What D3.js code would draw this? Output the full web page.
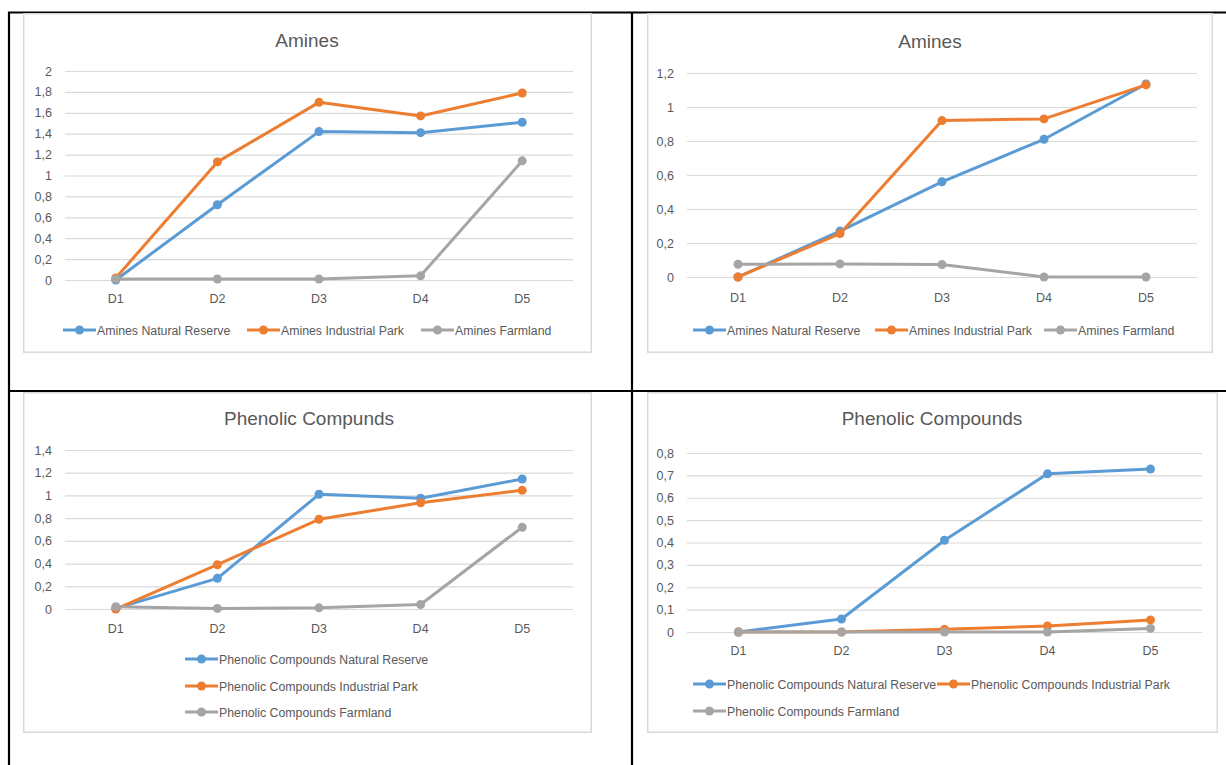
<!DOCTYPE html>
<html><head><meta charset="utf-8">
<script src="https://cdn.jsdelivr.net/npm/d3@7/dist/d3.min.js"></script>
<style>
html,body{margin:0;padding:0;background:#fff;}
svg{display:block;font-family:"Liberation Sans",Arial,sans-serif;}
</style></head>
<body><svg id="c" width="1226" height="765"></svg>
<script>
// ---------- DATA ----------
const categories = ["D1","D2","D3","D4","D5"];

// Panel 1 (top-left) Amines
const aminesA_natural    = [0.00, 0.72, 1.42, 1.41, 1.51];
const aminesA_industrial = [0.02, 1.13, 1.70, 1.57, 1.79];
const aminesA_farmland   = [0.01, 0.01, 0.01, 0.04, 1.14];
const aminesA_ticks = [0,0.2,0.4,0.6,0.8,1,1.2,1.4,1.6,1.8,2];

// Panel 2 (top-right) Amines
const aminesB_natural    = [0.00, 0.27, 0.56, 0.81, 1.135];
const aminesB_industrial = [0.00, 0.255, 0.92, 0.93, 1.13];
const aminesB_farmland   = [0.075, 0.077, 0.073, 0.00, 0.00];
const aminesB_ticks = [0,0.2,0.4,0.6,0.8,1,1.2];

// Panel 3 (bottom-left) Phenolic Compunds
const phenA_natural    = [0.005, 0.27, 1.01, 0.975, 1.145];
const phenA_industrial = [0.00, 0.39, 0.79, 0.935, 1.045];
const phenA_farmland   = [0.02, 0.005, 0.01, 0.04, 0.72];
const phenA_ticks = [0,0.2,0.4,0.6,0.8,1,1.2,1.4];

// Panel 4 (bottom-right) Phenolic Compounds
const phenB_natural    = [0.00, 0.058, 0.41, 0.707, 0.728];
const phenB_industrial = [0.00, 0.00, 0.012, 0.027, 0.054];
const phenB_farmland   = [0.00, 0.00, 0.00, 0.00, 0.016];
const phenB_ticks = [0,0.1,0.2,0.3,0.4,0.5,0.6,0.7,0.8];

const titles = ["Amines","Amines","Phenolic Compunds","Phenolic Compounds"];
const aminesNames = ["Amines Natural Reserve","Amines Industrial Park","Amines Farmland"];
const phenNames = ["Phenolic Compounds Natural Reserve","Phenolic Compounds Industrial Park","Phenolic Compounds Farmland"];
const colors = ["#5B9BD5","#ED7D31","#A5A5A5"];

// ---------- LAYOUT ----------
const svg = d3.select("#c");
const fmt = v => String(v).replace(".", ",");

const panels = [
  {box:[23,13,592,353], plot:[65,573,71,280], title:[307,47], xLab:303, ticks:aminesA_ticks,
   series:[aminesA_natural,aminesA_industrial,aminesA_farmland], names:aminesNames,
   legend:[[63,330],[247,330],[421,330]]},
  {box:[647,13,1213,353], plot:[687,1197,73,277], title:[930,48], xLab:302, ticks:aminesB_ticks,
   series:[aminesB_natural,aminesB_industrial,aminesB_farmland], names:aminesNames,
   legend:[[693,330],[875,330],[1044,330]]},
  {box:[23,392,592,733], plot:[65,573,450,609], title:[309,425], xLab:633, ticks:phenA_ticks,
   series:[phenA_natural,phenA_industrial,phenA_farmland], names:phenNames,
   legend:[[185,659],[185,686],[185,712]]},
  {box:[647,392,1218,733], plot:[687,1202,453,632], title:[932,425], xLab:655, ticks:phenB_ticks,
   series:[phenB_natural,phenB_industrial,phenB_farmland], names:phenNames,
   legend:[[693,684],[937,684],[693,711]]}
];

// table borders
const borders = svg.append("g").attr("stroke","#000").attr("stroke-width",2.2);
borders.append("line").attr("x1",8).attr("x2",1226).attr("y1",12.5).attr("y2",12.5);
borders.append("line").attr("x1",8).attr("x2",1226).attr("y1",391).attr("y2",391);
borders.append("line").attr("x1",9).attr("x2",9).attr("y1",12).attr("y2",765);
borders.append("line").attr("x1",632).attr("x2",632).attr("y1",12).attr("y2",765);

panels.forEach((p, pi) => {
  const g = svg.append("g");
  const [bx0,by0,bx1,by1] = p.box;
  g.append("rect").attr("x",bx0+0.75).attr("y",by0+0.75).attr("width",bx1-bx0-1.5).attr("height",by1-by0-1.5)
    .attr("fill","#fff").attr("stroke","#D9D9D9").attr("stroke-width",1.5);

  const [l,r,t,b] = p.plot;
  const x = d3.scaleBand().domain(categories).range([l,r]);
  const xc = d => x(d) + x.bandwidth()/2;
  const y = d3.scaleLinear().domain([0, d3.max(p.ticks)]).range([b,t]);

  // title
  g.append("text").attr("x",p.title[0]).attr("y",p.title[1]).attr("text-anchor","middle")
    .attr("font-size",19).attr("fill","#595959").text(titles[pi]);

  // y axis with gridlines
  const ya = g.append("g").attr("transform",`translate(${l},0)`)
    .call(d3.axisLeft(y).tickValues(p.ticks).tickFormat(fmt).tickSize(-(r-l)).tickPadding(13));
  ya.select(".domain").remove();
  ya.selectAll(".tick line").attr("stroke","#D9D9D9").attr("stroke-width",1.2);
  ya.selectAll(".tick text").attr("fill","#595959").attr("font-size",12.5)
    .attr("font-family","inherit");

  // x axis labels
  const xa = g.append("g").attr("transform",`translate(0,${p.xLab})`)
    .call(d3.axisBottom(x).tickSize(0).tickPadding(0));
  xa.select(".domain").remove();
  xa.selectAll(".tick text").attr("fill","#595959").attr("font-size",12.5)
    .attr("font-family","inherit").attr("dy","0");

  // series
  const line = d3.line().x((d,i)=>xc(categories[i])).y(d=>y(d));
  p.series.forEach((s, si) => {
    const sg = g.append("g");
    sg.append("path").datum(s).attr("d",line).attr("fill","none")
      .attr("stroke",colors[si]).attr("stroke-width",3).attr("stroke-linejoin","round").attr("stroke-linecap","round");
    sg.selectAll("circle").data(s).join("circle")
      .attr("cx",(d,i)=>xc(categories[i])).attr("cy",d=>y(d)).attr("r",4.5).attr("fill",colors[si]);
  });

  // legend
  p.names.forEach((n, si) => {
    const [lx, ly] = p.legend[si];
    const lg = g.append("g").attr("transform",`translate(${lx},${ly})`);
    lg.append("line").attr("x1",0).attr("x2",33).attr("y1",0).attr("y2",0)
      .attr("stroke",colors[si]).attr("stroke-width",3);
    lg.append("circle").attr("cx",16.5).attr("cy",0).attr("r",4.5).attr("fill",colors[si]);
    lg.append("text").attr("x",34).attr("y",4.5).attr("font-size",12.3).attr("fill","#595959").text(n);
  });
});
</script></body></html>
